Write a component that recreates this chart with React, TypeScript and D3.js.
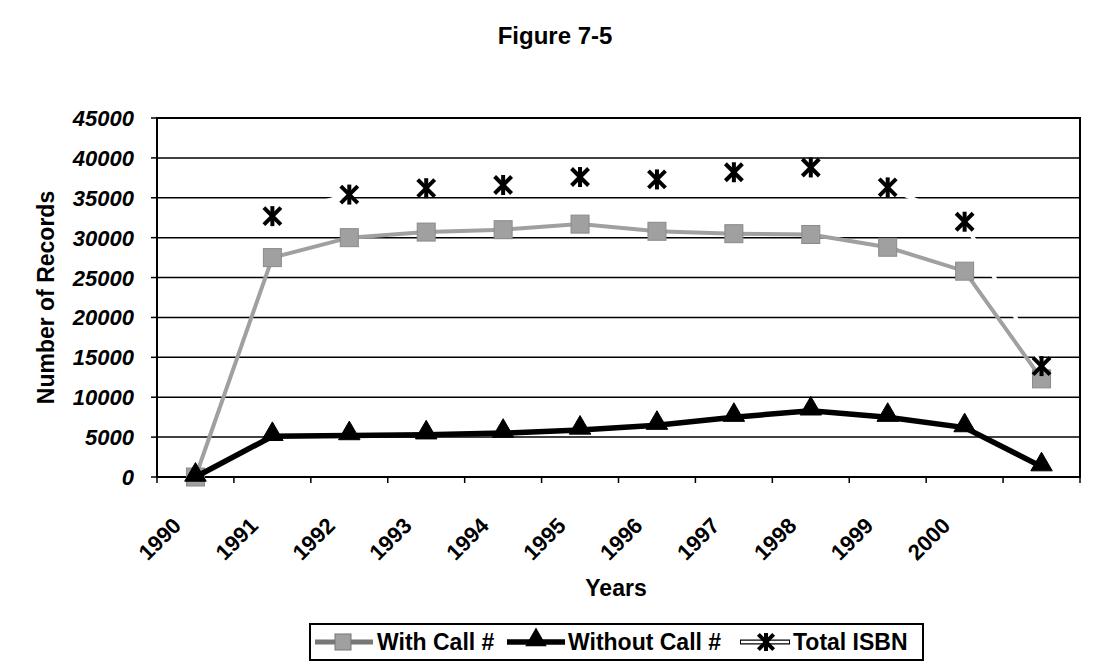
import * as d3 from 'd3';
import { type FC } from 'react';

const years = ['1990', '1991', '1992', '1993', '1994', '1995', '1996', '1997', '1998', '1999', '2000', ''];
const withCall = [0, 27500, 30000, 30700, 31000, 31700, 30800, 30500, 30400, 28800, 25800, 12300];
const withoutCall = [0, 5100, 5200, 5300, 5500, 5900, 6500, 7500, 8300, 7500, 6200, 1300];
const totalIsbn: (number | null)[] = [null, 32700, 35400, 36200, 36600, 37600, 37300, 38200, 38800, 36300, 32000, 13900];
const yTicks = [0, 5000, 10000, 15000, 20000, 25000, 30000, 35000, 40000, 45000];

const W = 1096;
const H = 664;
const font = '"Liberation Sans", Arial, sans-serif';
const plot = { left: 157, right: 1080, top: 118, bottom: 477 };
const gray = '#a0a0a0';

const Star: FC<{ x: number; y: number; r?: number; w?: number }> = ({ x, y, r = 10, w = 4 }) => (
  <g stroke="#000" strokeWidth={w} strokeLinecap="butt">
    <line x1={x - r * 0.85} y1={y - r * 0.85} x2={x + r * 0.85} y2={y + r * 0.85} />
    <line x1={x - r * 0.85} y1={y + r * 0.85} x2={x + r * 0.85} y2={y - r * 0.85} />
    <line x1={x} y1={y - r} x2={x} y2={y + r} />
  </g>
);

const App: FC = () => {
  const x = d3
    .scaleBand<string>()
    .domain(years.map((_, i) => String(i)))
    .range([plot.left, plot.right]);
  const cx = (i: number) => (x(String(i)) ?? 0) + x.bandwidth() / 2;
  const y = d3.scaleLinear().domain([0, 45000]).range([plot.bottom, plot.top]);

  const line = d3
    .line<number | null>()
    .defined((d) => d !== null)
    .x((_, i) => cx(i))
    .y((d) => y(d as number));

  const tri = d3.symbol().type(d3.symbolTriangle).size(200)();
  const boundaries = d3.range(years.length + 1).map((i) => plot.left + i * x.step());

  return (
    <svg
      width={W}
      height={H}
      style={{ position: 'absolute', left: 0, top: 0, background: '#fff' }}
      fontFamily={font}
    >
      <rect width={W} height={H} fill="#fff" />
      <text x={555} y={44} textAnchor="middle" fontSize={24} fontWeight="bold">
        Figure 7-5
      </text>

      {/* gridlines */}
      {yTicks.map((t) => (
        <line key={t} x1={plot.left} x2={plot.right} y1={y(t)} y2={y(t)} stroke="#000" strokeWidth={1.5} />
      ))}
      <rect
        x={plot.left}
        y={plot.top}
        width={plot.right - plot.left}
        height={plot.bottom - plot.top}
        fill="none"
        stroke="#000"
        strokeWidth={2}
      />

      {/* y axis */}
      {yTicks.map((t) => (
        <g key={t}>
          <line x1={plot.left - 6} x2={plot.left} y1={y(t)} y2={y(t)} stroke="#000" strokeWidth={1.5} />
          <text
            x={134}
            y={y(t) + 8}
            textAnchor="end"
            fontSize={22}
            fontWeight="bold"
            fontStyle="italic"
          >
            {t}
          </text>
        </g>
      ))}
      <text
        transform={`translate(54,${(plot.top + plot.bottom) / 2}) rotate(-90)`}
        textAnchor="middle"
        fontSize={23}
        fontWeight="bold"
      >
        Number of Records
      </text>

      {/* x axis */}
      {boundaries.map((b, i) => (
        <line key={i} x1={b} x2={b} y1={plot.bottom} y2={plot.bottom + 6} stroke="#000" strokeWidth={1.5} />
      ))}
      {years.map((yr, i) => (
        <text
          key={i}
          transform={`translate(${cx(i) - 13},${plot.bottom + 50}) rotate(-45)`}
          textAnchor="end"
          fontSize={22}
          fontWeight="bold"
        >
          {yr}
        </text>
      ))}
      <text x={616} y={596} textAnchor="middle" fontSize={23} fontWeight="bold">
        Years
      </text>

      {/* With Call # */}
      <path d={line(withCall) ?? ''} fill="none" stroke={gray} strokeWidth={4} />
      {withCall.map((v, i) => (
        <rect key={i} x={cx(i) - 9} y={y(v) - 9} width={18} height={18} fill={gray} stroke="#8a8a8a" />
      ))}

      {/* Without Call # */}
      <path d={line(withoutCall) ?? ''} fill="none" stroke="#000" strokeWidth={5.5} />
      {withoutCall.map((v, i) => (
        <path key={i} d={tri ?? ''} transform={`translate(${cx(i)},${y(v) - 2})`} fill="#000" stroke="#000" />
      ))}

      {/* Total ISBN */}
      <path d={line(totalIsbn) ?? ''} fill="none" stroke="#fff" strokeWidth={4} />
      {totalIsbn.map((v, i) => (v === null ? null : <Star key={i} x={cx(i)} y={y(v)} />))}

      {/* legend */}
      <rect x={310} y={624} width={613} height={36} fill="#fff" stroke="#000" strokeWidth={2} />
      <line x1={315} x2={373} y1={642} y2={642} stroke="#777" strokeWidth={5} />
      <rect x={335} y={634} width={16} height={16} fill={gray} stroke="#777" />
      <text x={377} y={650} fontSize={23} fontWeight="bold">
        With Call #
      </text>
      <line x1={507} x2={565} y1={642} y2={642} stroke="#000" strokeWidth={5.5} />
      <path d={tri ?? ''} transform="translate(536,640)" fill="#000" />
      <text x={568} y={650} fontSize={23} fontWeight="bold">
        Without Call #
      </text>
      <line x1={740} x2={790} y1={642} y2={642} stroke="#000" strokeWidth={5} />
      <line x1={741} x2={789} y1={642} y2={642} stroke="#fff" strokeWidth={2.5} />
      <Star x={766} y={642} r={9} />
      <text x={793} y={650} fontSize={23} fontWeight="bold">
        Total ISBN
      </text>
    </svg>
  );
};

export default App;
